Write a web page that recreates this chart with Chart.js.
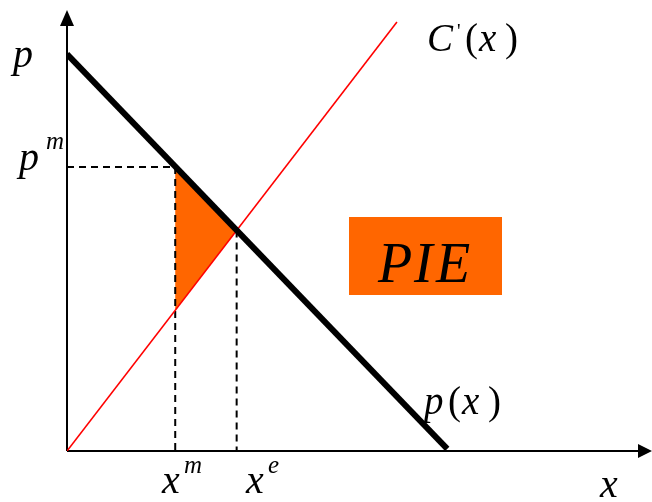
<!DOCTYPE html>
<html>
<head>
<meta charset="utf-8">
<script src="https://cdn.jsdelivr.net/npm/chart.js@4/dist/chart.umd.min.js"></script>
<style>
html,body{margin:0;padding:0;background:#fff;}
canvas{display:block;}
</style>
</head>
<body>
<canvas id="c" width="652" height="502"></canvas>
<script>
// Data (axis units 0..10)
const demandX = [0, 6.5];
const demandY = [9.0, 0.05];
const mcX = [0, 5.64];
const mcY = [0, 9.73];
const xm = 1.85, xe = 2.9;
const pm = 6.44, pe = 5.0;
const mcAtXm = 3.2;
const pieX = [xm, xe, xm];
const pieY = [pm, pe, mcAtXm];

const pts = (xs, ys) => xs.map((x, i) => ({x: x, y: ys[i]}));

const serif = '"Liberation Serif", "DejaVu Serif", serif';

const decor = {
  id: 'decor',
  beforeDatasetsDraw(chart) {
    const ctx = chart.ctx, a = chart.chartArea;
    ctx.save();
    ctx.strokeStyle = '#000';
    ctx.fillStyle = '#000';
    ctx.lineWidth = 2;
    // y axis
    ctx.beginPath();
    ctx.moveTo(a.left, a.bottom);
    ctx.lineTo(a.left, a.top + 12);
    ctx.stroke();
    ctx.beginPath();
    ctx.moveTo(a.left, a.top);
    ctx.lineTo(a.left - 7, a.top + 16);
    ctx.lineTo(a.left + 7, a.top + 16);
    ctx.closePath();
    ctx.fill();
    // x axis
    ctx.beginPath();
    ctx.moveTo(a.left, a.bottom);
    ctx.lineTo(a.right - 10, a.bottom);
    ctx.stroke();
    ctx.beginPath();
    ctx.moveTo(a.right, a.bottom);
    ctx.lineTo(a.right - 14, a.bottom - 7);
    ctx.lineTo(a.right - 14, a.bottom + 7);
    ctx.closePath();
    ctx.fill();
    ctx.restore();
  },
  afterDraw(chart) {
    const ctx = chart.ctx;
    ctx.save();
    ctx.fillStyle = '#000';
    ctx.textBaseline = 'alphabetic';
    ctx.textAlign = 'left';
    const it = (sz) => 'italic ' + sz + 'px ' + serif;
    const rm = (sz) => sz + 'px ' + serif;
    // p
    ctx.font = it(40); ctx.fillText('p', 13, 67);
    // p^m
    ctx.font = it(40); ctx.fillText('p', 19, 170);
    ctx.font = it(25); ctx.fillText('m', 46, 149);
    // C'(x)
    ctx.font = it(39); ctx.fillText('C', 427, 51);
    ctx.font = rm(20); ctx.fillText("'", 457, 38);
    ctx.font = rm(39); ctx.fillText('(', 465, 51);
    ctx.font = it(39); ctx.fillText('x', 479, 51);
    ctx.font = rm(39); ctx.fillText(')', 505, 51);
    // p(x)
    ctx.font = it(39); ctx.fillText('p', 424, 414);
    ctx.font = rm(39); ctx.fillText('(', 448, 414);
    ctx.font = it(39); ctx.fillText('x', 462, 414);
    ctx.font = rm(39); ctx.fillText(')', 488, 414);
    // x^m
    ctx.font = it(40); ctx.fillText('x', 162, 493);
    ctx.font = it(25); ctx.fillText('m', 184, 473);
    // x^e
    ctx.font = it(40); ctx.fillText('x', 246, 493);
    ctx.font = it(25); ctx.fillText('e', 268, 473);
    // x
    ctx.font = it(40); ctx.fillText('x', 600, 497);
    // PIE box
    ctx.fillStyle = '#FF6600';
    ctx.fillRect(349, 217, 153, 78);
    ctx.fillStyle = '#000';
    ctx.font = it(56);
    ctx.fillText('P', 378, 282);
    ctx.fillText('I', 414, 282);
    ctx.fillText('E', 436, 282);
    ctx.restore();
  }
};

new Chart(document.getElementById('c'), {
  type: 'scatter',
  data: {
    datasets: [
      {data: pts(demandX, demandY), showLine: true, borderColor: '#000', borderWidth: 6, pointRadius: 0, fill: false, borderCapStyle: 'butt'},
      {data: pts(mcX, mcY), showLine: true, borderColor: '#FF0000', borderWidth: 1.6, pointRadius: 0, fill: false},
      {data: [{x: 0, y: pm}, {x: xm, y: pm}], showLine: true, borderColor: '#000', borderWidth: 2, borderDash: [7, 5], pointRadius: 0, fill: false},
      {data: [{x: xm, y: pm}, {x: xm, y: 0}], showLine: true, borderColor: '#000', borderWidth: 2, borderDash: [7, 5], pointRadius: 0, fill: false},
      {data: [{x: xe, y: pe}, {x: xe, y: 0}], showLine: true, borderColor: '#000', borderWidth: 2, borderDash: [7, 5], pointRadius: 0, fill: false},
      {data: pts(pieX, pieY), showLine: true, borderWidth: 0, borderColor: 'rgba(0,0,0,0)', backgroundColor: '#FF6600', pointRadius: 0, fill: 'shape'}
    ]
  },
  options: {
    responsive: false,
    animation: false,
    layout: {padding: {left: 67, right: 0, top: 10, bottom: 51}},
    plugins: {legend: {display: false}, tooltip: {enabled: false}},
    scales: {
      x: {type: 'linear', min: 0, max: 10, display: false},
      y: {type: 'linear', min: 0, max: 10, display: false}
    }
  },
  plugins: [decor]
});
</script>
</body>
</html>
